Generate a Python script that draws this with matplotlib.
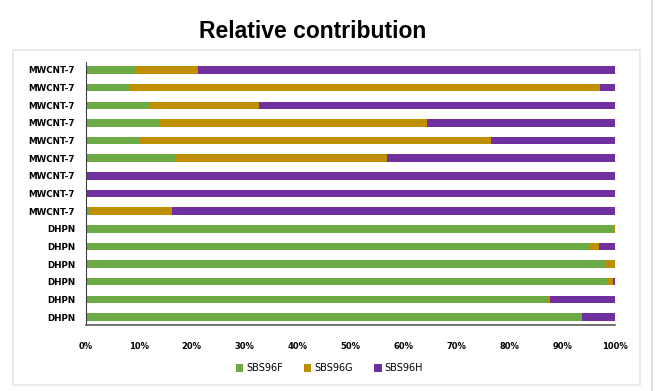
import matplotlib.pyplot as plt
from matplotlib.patches import Rectangle
from matplotlib.lines import Line2D
import numpy as np

# rows listed top to bottom as in the picture
labels = ["MWCNT-7"] * 9 + ["DHPN"] * 6
sbs96f = [9.3, 8.1, 12.1, 14.0, 10.2, 17.0, 0.0, 0.0, 0.8,
          99.7, 95.1, 98.3, 98.4, 87.4, 93.8]
sbs96g = [11.9, 89.1, 20.6, 50.5, 66.4, 39.9, 0.0, 0.0, 15.5,
          0.3, 1.9, 1.7, 1.2, 0.3, 0.0]
sbs96h = [78.8, 2.8, 67.3, 35.5, 23.4, 43.1, 100.0, 100.0, 83.7,
          0.0, 3.0, 0.0, 0.4, 12.3, 6.2]
series = ["SBS96F", "SBS96G", "SBS96H"]
colors = ["#6BAA45", "#BF8F00", "#7030A0"]

fig = plt.figure(figsize=(6.6, 3.91), dpi=100)

# outer chart frame and the grey edge on the right
fig.patches.append(Rectangle((13 / 660, 1 - 385 / 391), 627 / 660, 335 / 391,
                             transform=fig.transFigure, fill=False,
                             edgecolor="#E6E6E6", linewidth=1.2))
fig.lines.append(Line2D([652 / 660, 652 / 660], [0, 1], transform=fig.transFigure,
                        color="#DDDDDD", linewidth=1.5))

fig.text(313 / 660, 1 - 31 / 391, "Relative contribution", ha="center", va="center",
         fontsize=16.5, fontweight="bold", family="Liberation Sans")

ax = fig.add_axes([86 / 660, 1 - 325 / 391, 529 / 660, 263 / 391])

y = np.arange(len(labels))[::-1]
data = [np.array(sbs96f), np.array(sbs96g), np.array(sbs96h)]
left = np.zeros(len(labels))
for vals, name, c in zip(data, series, colors):
    ax.barh(y, vals, left=left, height=0.42, color=c, label=name)
    left = left + vals

ax.set_xlim(0, 100)
ax.set_ylim(-0.45, 14.45)
ax.set_yticks(y)
ax.set_yticklabels(labels, fontsize=6.3, fontweight="bold")
ax.set_xticks(np.arange(0, 101, 10))
ax.set_xticklabels([f"{v}%" for v in range(0, 101, 10)], fontsize=6, fontweight="bold")
ax.tick_params(axis="both", length=0)
ax.tick_params(axis="x", pad=12)
ax.tick_params(axis="y", pad=8)
for s in ["top", "right"]:
    ax.spines[s].set_visible(False)
ax.spines["left"].set_color("#404040")
ax.spines["bottom"].set_color("#595959")
ax.spines["bottom"].set_linewidth(1.2)

ax.legend(loc="center", bbox_to_anchor=(0.46, -0.165), ncol=3, frameon=False,
          handlelength=0.75, handleheight=0.75, handletextpad=0.3,
          columnspacing=2.2, prop={"size": 7})

fig.savefig("out.png", dpi=100)
